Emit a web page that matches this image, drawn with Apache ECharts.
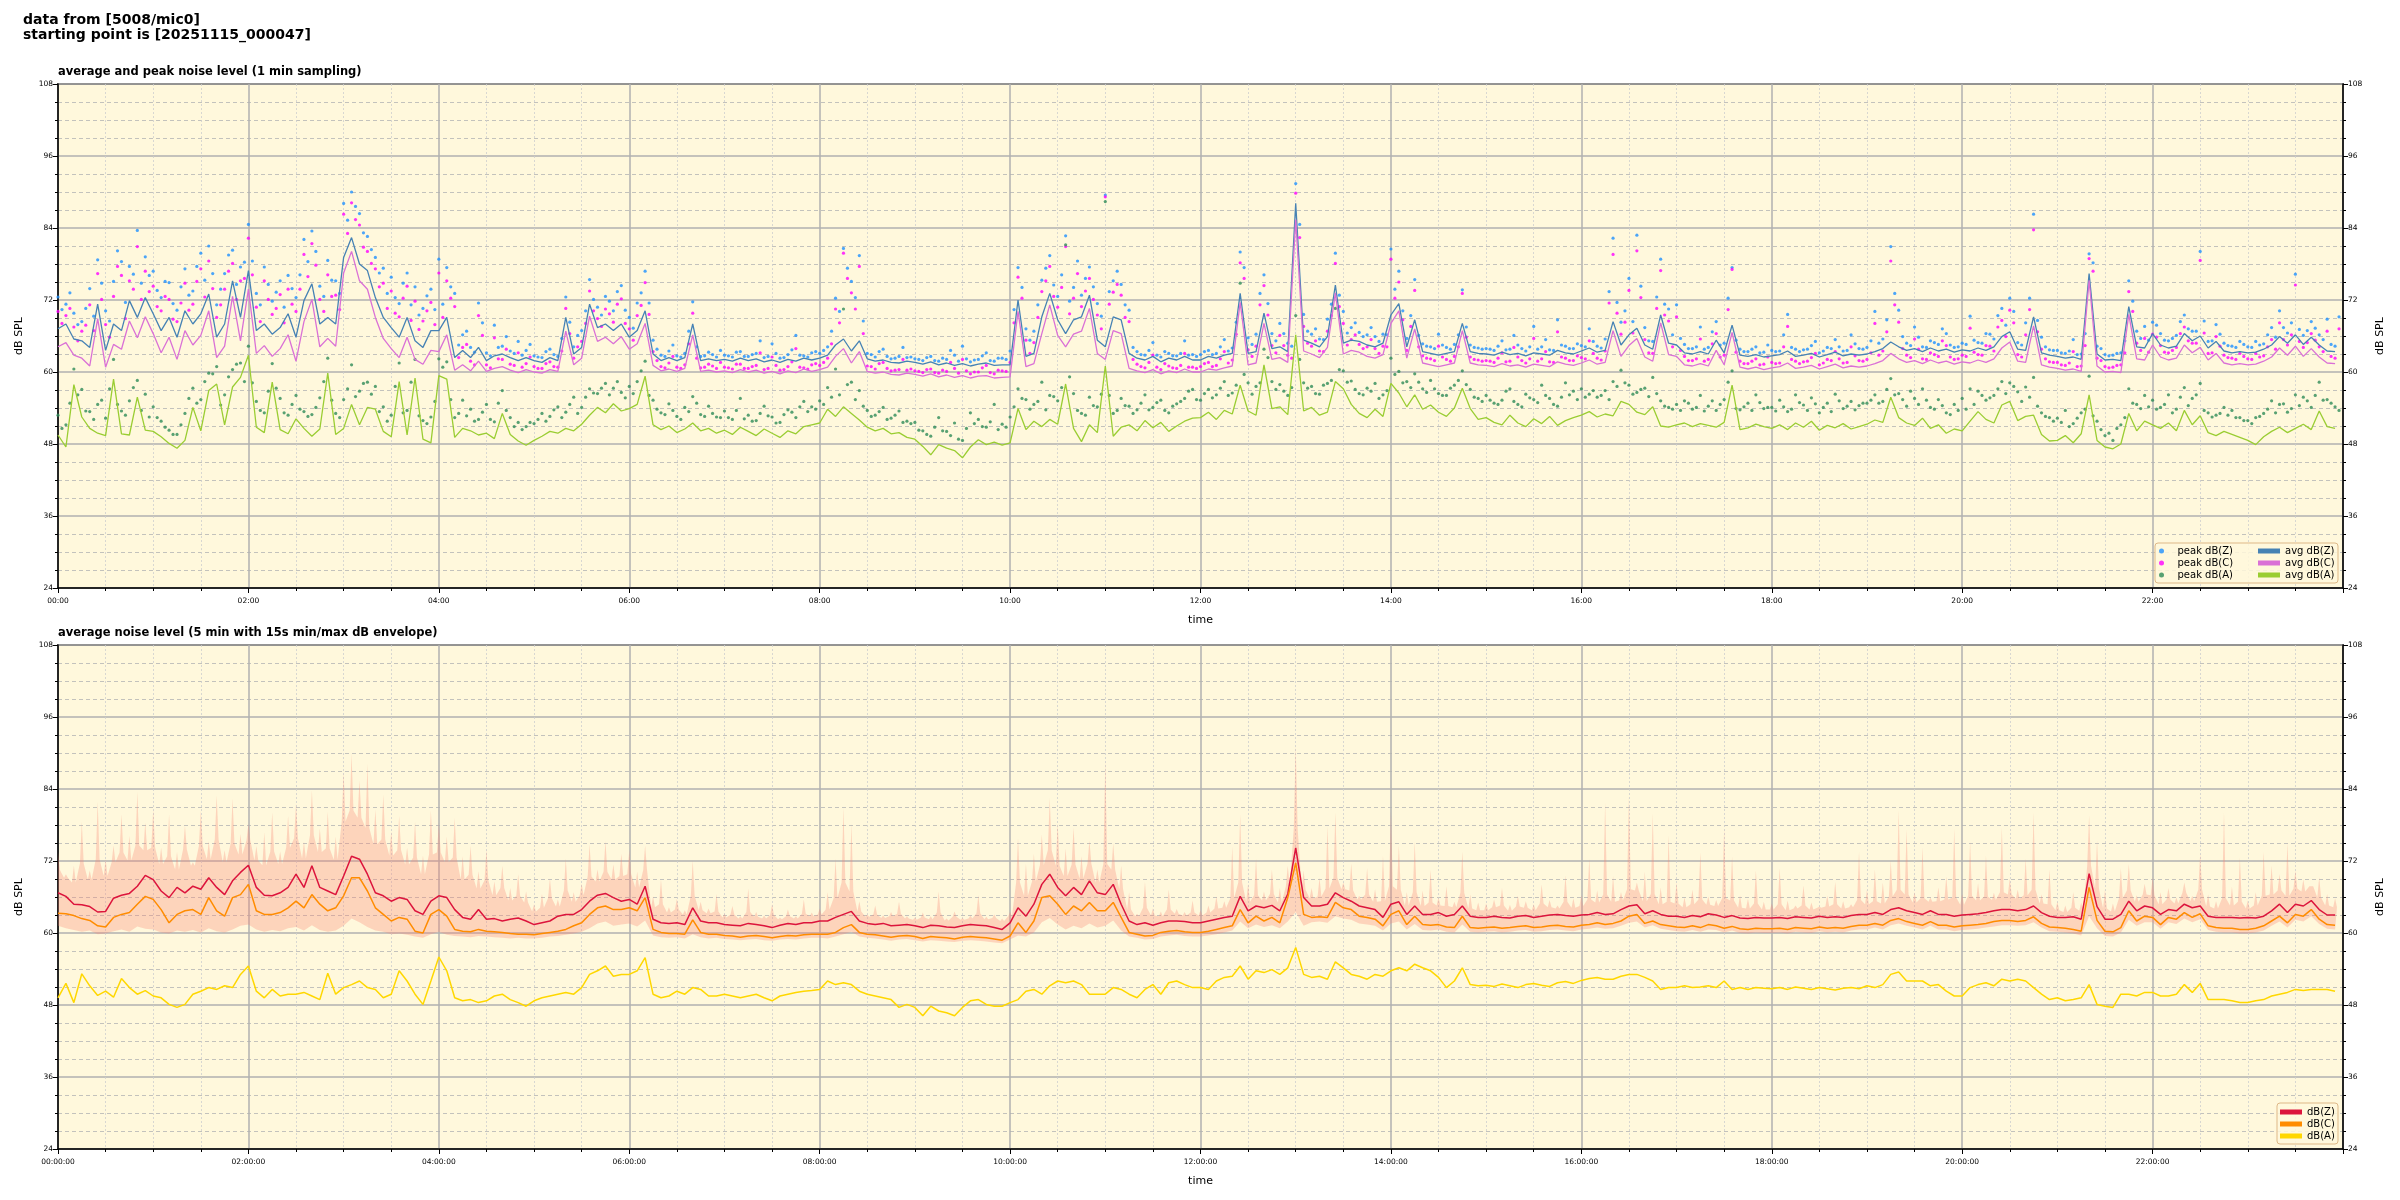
<!DOCTYPE html>
<html><head><meta charset="utf-8">
<script src="https://cdn.jsdelivr.net/npm/echarts@6/dist/echarts.min.js"></script>
<style>html,body{margin:0;padding:0;background:#fff}#c{width:2400px;height:1200px}</style>
</head><body><div id="c"></div>
<script>
// ---- sampling grid: one value every 5 minutes, 00:00 .. 23:55 ----
const STEP_MIN = 5;
const T = Array.from({length: 288}, (_, i) => i * STEP_MIN);
const HALF_STEP = 2.5;   // second set of peak samples sits half a step later

// ---- top panel: average levels (1 min sampling, read at 5 min) ----
const avgZ = [
67.2,68,65.5,65.2,64.1,71.3,63.6,68,66.9,71.9,69.1,72.4,
69.7,66.9,69.1,65.8,70.2,68,69.7,73,65.8,68,75.2,69.1,
76.9,66.9,68,66.3,67.4,69.7,65.8,71.9,74.7,68,69.1,68,
79.1,82.4,78,76.9,72.4,69.1,67.4,65.8,69.1,65.2,64.1,66.9,
66.9,69.1,62.4,63.6,62.4,64.1,61.9,62.7,63,62.4,61.9,62.4,
61.9,61.6,62.4,61.9,69.1,63,64.1,71.3,67.4,68,66.9,68,
65.8,66.9,70.2,63,61.9,62.4,61.9,62.4,68,61.9,62.2,61.9,
62.1,61.8,62.3,61.9,62.2,61.7,62,61.6,62.1,61.8,62.3,62,
62.3,62.8,64.5,65.5,63.5,65.2,62.2,61.8,62,61.6,61.5,61.8,
61.6,61.3,61.7,61.2,61.5,61.1,61.4,61,61.3,61.5,61.1,61.2,
61.2,72,62.6,63.1,69.2,73.1,68.7,66.4,68.7,69.2,72.8,65.3,
64.2,69.2,68.7,63.1,62.3,62,62.6,61.7,62.3,62,62.6,62,
62,62.6,62.3,62.8,63.1,73.1,63.1,63.4,69.8,63.9,64.2,63.4,
88.1,65.3,64.8,64.2,65.9,74.5,64.8,65.3,65.1,64.5,64.2,64.8,
69.5,71.4,64.2,68.7,63.4,63.1,62.8,63.1,63.4,68.1,63.4,63.1,
63,62.8,63.3,62.9,63.1,62.7,63.2,63,62.8,63.6,63.2,63,
63.5,64,63.3,63.6,68.4,64.5,66.2,67.3,64.5,63.8,69.5,64.8,
64.5,63.2,63,63.4,63,65.3,63.2,67.8,62.8,62.6,62.9,62.5,
62.7,62.9,63.5,62.6,62.8,63.1,62.5,62.9,63.3,62.7,63,62.8,
63,63.4,63.9,65,64.2,63.6,63.9,63.4,64,63.5,63.8,63.3,
63.7,63.5,64,63.6,64.2,65.9,66.7,63.8,63.6,69.2,63.2,62.8,
62.6,62.3,62.5,62.1,76.4,63,62,62.1,61.9,70.9,64.2,64,
66.4,64.5,64,64.3,66.4,65.2,66,64,65.1,63.5,63.2,63.4,
63.2,63.3,63.8,64.5,65.9,64.8,66.2,64.6,65.8,64.5,63.5,63.4
];
const avgC = [
64.2,64.9,62.8,62.3,61.0,68.9,60.8,64.6,63.8,68.5,65.7,69.2,
66.4,63.2,65.8,62.1,66.9,64.5,66.1,70.2,62.4,64.3,72.6,65.2,
73.8,63.1,64.4,62.6,63.9,66.2,61.8,68.4,72.1,64.2,65.6,64.3,
76.5,80.1,75.2,73.8,69.1,65.6,63.9,62.4,65.8,62.1,61.3,63.6,
63.4,66.2,60.3,61.2,60.2,61.8,60.1,60.6,60.9,60.3,59.9,60.4,
60,59.8,60.4,60.1,66.8,61.2,62.3,69.3,65.1,65.8,64.7,65.9,
63.8,64.7,68.1,61.1,60.2,60.5,60.1,60.6,66.2,60.1,60.3,60,
60.2,59.9,60.4,60,60.3,59.8,60.1,59.7,60.2,59.9,60.5,60.1,
60.4,60.8,62.6,63.9,61.5,63.4,60.1,59.8,60,59.6,59.5,59.8,
59.6,59.3,59.7,59.2,59.5,59.1,59.4,59,59.3,59.4,59,59.1,
59.2,70.1,60.9,61.4,66.4,71.2,66.1,64.2,66.3,66.8,70.6,63.1,
62.1,66.9,66.4,60.6,60.2,59.9,60.4,59.7,60.2,59.9,60.5,60,
60,60.5,60.3,60.7,61,71.6,61.2,61.5,68.1,62.1,62.4,61.6,
85.4,63.5,63,62.4,64.1,73.2,63,63.6,63.3,62.6,62.3,62.9,
68.1,70.2,62.3,67.2,61.5,61.2,60.9,61.2,61.5,66.9,61.5,61.2,
61.1,60.9,61.4,61,61.2,60.8,61.3,61.1,60.9,61.7,61.3,61.1,
61.5,62,61.3,61.6,66.9,62.6,64.4,65.6,62.5,61.8,68.2,62.9,
62.6,61.2,61,61.4,61,63.6,61.2,66.6,60.8,60.5,60.8,60.4,
60.7,60.9,61.5,60.6,60.8,61.1,60.5,60.9,61.3,60.7,61,60.8,
61,61.4,61.9,63.1,62.2,61.6,61.9,61.4,62,61.5,61.8,61.3,
61.7,61.5,62,61.6,62.2,64,65,61.8,61.6,67.7,61.2,60.8,
60.6,60.3,60.5,60.1,75.3,61,60,60.1,59.9,69.6,62.2,62,
64.5,62.5,62,62.3,64.5,63.2,64.1,62,63.1,61.5,61.2,61.4,
61.2,61.3,61.8,62.5,64,62.8,64.3,62.6,63.9,62.5,61.5,61.4
];
const avgA = [
49.5,47.5,57.9,52.5,50.6,49.8,49.4,58.8,49.7,49.5,55.8,50.3,
50.1,49.2,48.1,47.3,48.6,54.1,50.2,56.9,58,51.2,57.5,59.1,
62.8,50.8,49.9,58.3,50.4,49.7,52.2,50.6,49.3,50.5,59.8,49.6,
50.6,54.6,51.2,54.1,53.8,50.1,49.2,58.4,49.5,59,48.8,48.2,
59.4,58.8,49.1,50.6,50.2,49.5,49.8,48.9,53.1,49.6,48.5,47.8,
48.6,49.3,50.1,49.8,50.6,50.2,51.3,52.8,54.1,53.2,54.7,53.5,
53.9,54.6,59.3,51.2,50.4,51,49.9,50.5,51.5,50.2,50.6,49.8,
50.3,49.6,50.8,50.1,49.4,50.5,49.8,49.1,50.2,49.7,50.9,51.2,
51.5,53.8,52.6,54.2,53.1,52,50.8,50.2,50.6,49.7,49.9,49.1,
48.8,47.6,46.2,47.9,47.3,46.9,45.7,47.5,48.7,47.9,48.3,47.8,
48.2,53.9,50.4,51.8,50.9,52.1,51.3,58,50.6,48.4,51.2,49.9,
61,49.3,50.8,51.2,50.2,51.9,50.7,51.6,50.1,51,51.8,52.3,
52.4,53.3,52.1,53.6,53,57.8,53.5,52.8,61.2,53.9,54.2,52.9,
66.2,53.5,54.1,52.8,53.3,58.4,57.2,54.6,53.1,52.4,53.8,52.6,
58.1,56.5,54.2,56.2,53.8,54.5,53.3,52.6,54,57.3,53.9,52.1,
52.4,51.6,51.2,52.8,51.5,50.9,52.2,51.4,52.6,51.1,51.9,52.4,
52.8,53.4,52.5,53,52.7,55.1,54.6,53.3,52.9,54.2,51,50.8,
51.2,51.5,50.9,51.4,51.1,50.8,51.6,57.8,50.4,50.7,51.3,50.9,
50.6,51.2,50.4,51.5,50.8,51.8,50.3,51.1,50.7,51.4,50.5,50.9,
51.3,52,51.6,55.8,52.4,51.5,51.1,52.3,50.6,51.2,49.8,50.5,
50.2,51.8,53.4,52.1,51.5,54.5,55.1,51.9,52.6,52.8,49.6,48.5,
48.6,49.4,48.2,49.7,56.2,48.6,47.5,47.2,48,53.1,50.2,51.8,
51.2,50.6,51.5,50.2,53.6,51.2,52.7,49.9,49.4,50.1,49.6,49.1,
48.6,47.9,49.2,50.1,50.8,49.9,50.6,51.3,50.4,53.5,50.9,50.6
];
// ---- top panel: peak levels, samples on the 5 min grid ----
const peakZ = [
72.5,71.3,69.8,68.4,73.9,78.7,70.2,75.1,78.4,77.6,83.6,79.2,
76.8,72.4,74.9,70.3,77.2,73.5,79.8,81,71.2,76.4,80.3,77.5,
84.6,73.1,77.5,71.8,75.2,76.1,72.4,82.1,83.5,74.3,78.6,75.2,
88.1,90,86.4,82.6,79.1,77.3,75.8,71.4,76.5,74.2,70.6,73.8,
78.8,77.4,73.1,66.2,64.1,71.5,63.2,67.8,64.3,63.5,65.1,63.6,
62.7,62.4,63.8,62.6,72.5,64.2,66.9,75.4,70.8,72.6,70.2,74.4,
69.1,71.5,76.8,65.3,62.8,63.5,62.7,63.1,71.7,62.6,63.3,62.5,
62.8,62.5,63.4,62.6,63.1,62.4,64.7,62.3,62.9,66.1,62.7,63.2,
63.1,64.2,72.3,80.6,75.1,79.4,63.1,62.5,63.8,62.2,62.6,62.4,
62.2,61.9,62.6,61.8,62.1,62.8,64.3,61.7,62.1,63.2,61.8,62.3,
63.5,77.4,67.2,66.8,75.3,79.4,72.6,82.7,74.1,72.8,77.5,71.4,
89.5,75.2,74.6,70.3,63.4,62.8,64.9,62.5,63.1,62.7,65.2,62.9,
62.9,63.6,63.1,65.4,64,80,65.7,66.3,76.2,66.4,68.1,64.8,
91.4,69.6,66.3,65.5,68.8,79.8,70.1,67.4,66.6,66.2,65.9,66.3,
80.5,76.8,65.6,75.4,64.7,64.2,66.3,64.1,64.6,73.7,64.5,64,
63.9,63.6,65.2,63.8,64.5,63.5,67.6,64.2,63.7,68.7,64.3,63.9,
64.4,67.2,64.3,65.5,82.3,68.3,75.6,82.8,67.4,65.1,78.8,70.5,
71.2,64.6,63.9,67.5,64.1,68.4,64.8,77.4,63.8,63.4,64.2,63.3,
63.6,63.5,69.6,63.8,63.7,64.4,63.2,64.1,65.4,63.5,66.2,63.9,
64.1,70.1,65.5,80.9,70.3,64.8,67.5,64.2,65.2,64.6,66.4,64.1,
64.8,69.3,64.9,66.4,65.5,70.6,72.3,64.9,68.2,86.3,65.8,63.7,
63.6,63.1,65.4,63,79.7,64.3,62.9,62.8,63.2,75.2,66.8,67.6,
68.3,66.4,65.2,66.1,69.5,66.8,80.1,65.1,67.9,64.8,64.3,65.1,
64.2,65.1,64.7,67.4,70.2,66.5,76.3,66.1,68.4,66.2,68.8,64.3
];
const peakC = [
70.1,69.4,67.5,66.8,71.2,76.4,67.9,72.6,76.1,75.2,80.9,76.8,
74.3,70.2,72.1,68.4,74.8,71.3,77.2,78.5,69.1,73.8,78.1,75.2,
82.3,70.8,75.2,69.6,72.9,73.8,70.1,79.6,81.4,72.1,76.2,72.8,
86.3,88.2,84.5,80.1,77.2,74.8,73.5,69.2,74.3,71.8,68.5,71.6,
76.5,75.2,70.9,64.1,61.8,69.4,61.2,65.7,62.1,61.3,63.2,61.4,
60.9,60.6,61.7,60.8,70.6,62.3,65.1,73.5,68.9,70.5,68.3,72.2,
67.2,69.4,74.9,63.4,60.9,61.5,60.8,61.2,69.8,60.7,61.3,60.6,
60.8,60.5,61.3,60.6,61.1,60.4,62.5,60.3,60.9,63.9,60.7,61.2,
61.1,62.3,70.5,79.8,73.2,77.6,61,60.5,61.6,60.2,60.4,60.3,
60.2,59.9,60.5,59.8,60.1,60.6,62.1,59.7,60,61.1,59.7,60.2,
61.6,75.8,65.3,64.9,73.4,77.6,70.8,80.9,72.3,70.9,75.6,69.5,
89.2,73.3,72.8,68.4,61.3,60.7,62.8,60.4,61,60.6,63.1,60.8,
60.9,61.6,61.1,63.4,62,78.2,63.7,64.3,74.4,64.4,66.1,62.8,
89.8,67.6,64.3,63.5,66.8,78.1,68.1,65.4,64.6,64.2,63.9,64.3,
78.8,75,63.6,73.6,62.7,62.2,64.3,62.1,62.6,73.1,62.5,62,
61.9,61.6,63.2,61.8,62.5,61.5,65.6,62.2,61.7,66.7,62.3,61.9,
62.4,65.2,62.3,63.5,79.6,66.3,73.6,80.2,65.4,63.1,76.9,68.5,
69.2,62.6,61.9,65.5,62.1,66.4,62.8,77.1,61.8,61.4,62.2,61.3,
61.6,61.5,67.6,61.8,61.7,62.4,61.2,62.1,63.4,61.5,64.2,61.9,
62.1,68.1,63.5,78.5,68.3,62.8,65.5,62.2,63.2,62.6,64.4,62.1,
62.8,67.3,62.9,64.4,63.5,68.6,70.3,62.9,66.2,83.7,63.8,61.7,
61.6,61.1,63.4,61,78.9,62.3,60.9,60.8,61.2,73.4,64.8,65.6,
66.3,64.4,63.2,64.1,67.5,64.8,78.6,63.1,65.9,62.8,62.3,63.1,
62.2,63.1,62.7,65.4,68.2,64.5,74.5,64.1,66.4,64.2,66.8,62.3
];
const peakA = [
52.8,51.2,60.5,57.1,53.4,54.6,52.3,62.1,53.5,55.2,58.6,56.3,
54.2,51.8,50.3,49.6,53.1,57.3,55.4,59.8,60.9,56.2,60.4,61.5,
64.3,55.1,53.2,61.4,55.6,52.8,56.1,53.4,52.9,55.7,62.3,53.1,
55.4,61.2,56.8,58.3,57.6,54.2,52.8,61.5,53.6,62.1,51.9,52.5,
62.2,61.7,52.4,55.3,53.8,52.1,54.6,51.7,56.9,52.4,51.6,50.9,
51.4,53.1,52.6,54.2,53.3,55.8,54.1,57.2,56.4,58.1,57.3,56.6,
57.6,58.4,61.8,55.3,53.2,54.7,52.6,54.1,55.9,52.9,54.3,52.5,
53.5,52.1,55.6,52.8,51.9,54.3,52.5,51.6,53.7,52.4,55.1,54.2,
55.2,57.4,60.5,70.5,58.3,56.9,53.6,52.8,54.1,52.3,53.5,51.8,
51.6,50.2,49.3,52.4,50.1,51.5,48.6,53.2,52.1,50.8,54.6,51.3,
52.5,57.2,55.4,54.6,58.3,56.1,55.2,81.2,56.4,53.1,55.8,54.2,
88.4,53.1,55.6,54.3,53.7,56.2,54.1,55.3,53.2,54.7,55.6,57.1,
55.3,57.1,56.2,58.4,56.5,74.8,58.2,57.6,63.8,58.4,57.9,56.1,
69.4,58.2,57.6,56.3,58.1,70.6,60.2,58.5,56.4,57.3,58.1,56.2,
62.3,60.1,58.4,59.7,57.2,58.6,56.4,56.1,57.8,60.2,57.1,55.6,
56.1,54.8,55.3,57.2,54.6,56.3,55.4,57.8,55.6,54.3,58.2,56.8,
57.2,56.3,55.8,56.9,58.4,60.3,57.8,56.6,57.3,59.1,55.2,54.1,
54.6,55.2,53.8,56.1,54.3,53.6,55.4,60.2,53.7,54.8,56.2,53.9,
54.1,55.3,53.4,56.2,54.5,55.7,53.2,54.8,56.3,53.9,55.1,54.4,
54.8,56.2,55.1,58.9,56.4,54.3,55.6,57.2,54.1,55.4,53.2,54.6,
55.6,57.2,56.8,55.3,56.1,58.4,58.2,56.7,57.5,59.1,53.2,52.4,
52.3,53.6,51.4,53.2,59.3,51.8,49.4,48.6,51.2,57.2,54.6,56.1,
55.3,54.1,56.2,53.8,57.4,55.6,58.1,53.2,52.8,54.1,53.6,52.4,
51.9,52.4,53.1,55.2,54.6,53.3,56.2,55.8,54.1,58.3,55.4,54.2
];
// ---- top panel: peak levels, samples half a step later ----
const peakZb = [
70.4,73.2,67.9,70.6,69.3,74.8,68.5,80.2,71.6,76.3,74.8,76.1,
73.6,75.1,71.4,74.2,72.8,77.6,75.3,76.4,73.8,79.5,74.6,78.3,
78.5,71.2,74.6,73.3,70.8,73.9,76.2,78.4,80.1,72.6,75.3,73.1,
85.3,87.6,83.2,80.4,76.5,73.1,72.4,74.8,71.2,69.5,72.7,70.4,
71.3,74.2,64.5,66.8,63.3,68.2,62.7,64.1,65.9,63.1,62.8,64.6,
62.5,63.4,62.9,65.6,68.3,66.1,70.2,72.1,69.5,71.8,73.4,70.3,
67.3,73.2,71.5,63.8,62.6,64.5,62.5,66.8,64.2,62.7,62.9,63.6,
62.7,63.3,62.6,62.9,65.2,62.6,63.1,62.4,63.7,62.8,62.5,63.4,
63.6,66.8,70.1,77.3,72.4,68.5,62.9,63.4,62.6,62.3,64.1,62.5,
62.1,62.4,61.9,62.3,63.6,61.8,62.2,62,62.7,61.9,62.3,62.1,
70.4,74.1,65.3,71.2,77.3,74.5,76.2,71.8,78.5,75.6,74.2,69.3,
73.4,76.8,71.2,64.1,62.9,63.6,62.8,63.4,62.7,63.1,62.8,62.6,
63.4,62.9,64.2,63.5,68.3,77.4,64.6,73.1,71.4,65.2,66.4,64.3,
84.6,66.8,67.2,65.4,71.3,72.8,66.5,68.2,65.9,67.4,65.1,66.2,
73.8,70.2,69.4,66.1,64.3,63.9,64.5,63.8,66.2,67.5,64.1,63.8,
63.8,64.3,63.7,66.1,63.9,64.2,63.8,65.4,63.6,64.5,63.9,64.7,
64.2,65.1,64,73.4,71.6,70.2,68.4,74.3,65.2,72.5,71.3,66.2,
65.6,63.9,64.2,63.8,66.7,64.5,72.3,65.3,63.4,63.8,63.2,64.5,
63.4,66.2,64.1,63.4,63.8,65.1,63.5,63.9,64.2,63.6,64.7,63.8,
65.2,64.8,68.7,73.1,65.9,64.4,65.8,64.1,64.9,67.2,64.5,64.2,
64.6,65.3,64.8,66.3,69.4,67.8,70.1,64.5,72.3,68.6,64.2,63.6,
63.2,63.5,62.9,66.4,78.2,63.9,62.7,63.1,65.2,71.8,65.6,65.3,
67.8,65.3,65.6,68.4,67.2,66.8,68.5,65.2,66.3,64.4,64.1,64.6,
64.1,64.5,66.2,65.8,67.4,68.2,67.1,66.9,67.3,65.4,64.6,69.2
];
const peakCb = [
68.1,70.6,65.2,67.8,66.9,72.1,65.8,77.6,68.9,73.8,72.1,73.4,
70.9,72.6,68.8,71.5,70.3,75.1,72.5,73.9,71.2,76.8,72.1,75.6,
76.2,68.4,72.1,70.6,68.2,71.3,73.8,75.9,77.8,70.1,72.6,70.4,
83.1,85.4,80.8,78.1,74.2,70.6,69.8,72.3,68.6,67.1,70.2,67.9,
69.1,72.3,62.4,64.6,61.2,66.1,60.7,62.2,63.8,61.1,60.8,62.5,
60.6,61.4,60.9,63.5,66.4,64.2,68.1,70.2,67.6,69.7,71.3,68.1,
65.3,71.1,69.6,61.9,60.7,62.6,60.6,64.7,62.3,60.8,61,61.6,
60.7,61.3,60.6,60.9,63.2,60.6,61.1,60.4,61.7,60.8,60.5,61.4,
61.6,64.7,68.2,75.6,70.5,66.4,60.9,61.4,60.6,60.3,62.1,60.5,
60.1,60.4,59.9,60.3,61.6,59.8,60.2,60,60.7,59.9,60.3,60.1,
68.2,72.3,63.1,69.1,75.2,72.6,74.1,69.7,76.4,73.5,72.1,67.2,
71.3,74.6,69.1,62.1,60.9,61.6,60.8,61.4,60.7,61.1,60.8,60.6,
61.4,60.9,62.2,61.5,66.3,75.6,62.6,71.2,69.5,63.2,64.4,62.3,
82.4,64.8,65.2,63.4,69.4,70.9,64.5,66.2,63.9,65.4,63.1,64.2,
72.3,68.7,67.6,64.2,62.3,61.9,62.5,61.8,64.2,65.8,62.1,61.8,
61.8,62.3,61.7,64.1,61.9,62.2,61.8,63.4,61.6,62.5,61.9,62.7,
62.2,63.1,62,71.5,69.8,68.3,66.5,72.4,63.2,70.6,69.5,64.2,
63.6,61.9,62.2,61.8,64.7,62.5,70.4,63.3,61.4,61.8,61.2,62.5,
61.4,64.2,62.1,61.4,61.8,63.1,61.5,61.9,62.2,61.6,62.7,61.8,
63.2,62.8,66.7,71.2,63.9,62.4,63.8,62.1,62.9,65.2,62.5,62.2,
62.6,63.3,62.8,64.3,67.5,65.9,68.2,62.5,70.4,66.7,62.2,61.6,
61.2,61.5,60.9,64.4,76.8,61.9,60.7,61.1,63.2,70.1,63.6,63.3,
65.8,63.3,63.6,66.4,65.2,64.8,66.5,63.2,64.3,62.4,62.1,62.6,
62.1,62.5,64.2,63.8,65.4,66.2,65.1,64.9,65.3,63.4,62.6,67.2
];
const peakAb = [
50.6,54.8,56.2,53.5,52.1,55.3,57.2,54.6,52.8,57.4,53.6,52.5,
52.4,50.8,49.6,51.2,55.6,54.8,58.4,59.7,54.5,59.2,61.3,58.4,
58.2,53.6,56.8,57.3,53.2,54.6,53.8,52.6,54.1,58.4,55.3,52.4,
57.2,55.9,58.1,56.3,53.4,51.8,57.6,53.2,58.3,52.7,51.4,55.1,
60.8,55.4,53.1,52.7,51.8,53.3,52.1,54.8,53.6,50.9,50.4,51.6,
52.1,51.8,53.7,52.4,54.6,53.1,55.8,56.5,57.3,56.2,58.4,55.7,
56.4,60.2,56.1,53.8,52.9,53.6,52.1,53.4,54.8,52.6,53.1,52.4,
52.4,53.6,52.2,51.8,53.1,52.7,51.5,52.9,53.3,54.2,53.4,53.8,
54.6,55.8,56.2,57.9,55.4,54.3,52.6,53.4,52.1,52.8,51.6,51.4,
50.3,49.6,50.8,50.2,49.4,48.8,50.6,51.4,50.9,51.7,50.4,50.8,
54.2,55.6,53.8,55.1,53.7,55.9,57.4,59.2,53.6,52.8,54.4,56.3,
56.1,53.6,54.4,53.1,54.8,53.7,54.9,53.6,54.3,55.1,56.8,55.4,
56.4,55.7,57.3,56.1,57.8,59.6,56.3,58.2,62.4,57.1,56.8,57.4,
62.1,57.3,56.4,57.8,58.6,60.4,58.3,57.1,56.2,56.8,55.6,56.9,
59.6,58.2,57.4,58.3,56.6,57.2,56.1,57.3,58.6,57.9,55.8,55.1,
55.3,54.6,56.8,55.1,54.2,55.7,54.9,56.1,54.6,55.8,56.2,55.4,
55.8,56.9,56.1,55.4,57.6,58.2,56.3,57.1,55.9,56.4,54.3,53.8,
53.6,54.8,54.1,53.5,55.2,54.6,58.3,53.9,54.2,53.6,54.9,54.1,
53.5,54.2,53.8,54.9,53.6,54.7,54.1,53.4,55.2,54.3,53.7,54.8,
55.3,54.8,57.1,56.2,55.4,56.8,54.6,55.3,53.8,54.4,52.9,53.6,
53.8,54.6,56.1,55.7,57.2,56.4,57.6,55.1,55.8,54.3,52.6,51.8,
51.6,50.9,52.3,53.8,52.7,50.4,49.8,50.6,52.4,54.8,53.9,54.2,
53.8,54.6,53.2,55.8,54.4,56.2,53.6,52.5,53.1,52.8,52.4,51.9,
51.4,52.6,53.8,53.2,54.7,53.9,54.4,55.2,56.1,55.3,54.8,53.6
];

// ---- bottom panel: 5 min averages ----
const bZ = [
66.7,66.1,64.8,64.7,64.4,63.5,63.6,65.8,66.3,66.6,67.8,69.6,
68.9,67,65.9,67.6,66.7,67.8,67.3,69.2,67.6,66.4,68.7,70.1,
71.3,67.6,66.3,66.2,66.7,67.6,69.8,67.6,71.2,67.6,67,66.4,
69.5,72.8,72.3,69.8,66.7,66.2,65.3,65.9,65.6,63.7,63.1,65.3,
66.2,65.9,63.9,62.6,62.3,63.9,62.3,62.4,62,62.3,62.5,62,
61.4,61.7,62,62.8,63.1,63.1,63.9,65.3,66.3,66.6,65.9,65.3,
65.6,64.8,67.8,62.3,61.7,61.6,61.7,61.4,64.2,62,61.7,61.7,
61.4,61.3,61.2,61.6,61.4,61.2,60.9,61.3,61.6,61.4,61.7,61.7,
62,62,62.6,63.1,63.6,62,61.6,61.4,61.6,61.2,61.3,61.4,
61.2,60.9,61.3,61.2,61,60.9,61.2,61.4,61.3,61.2,60.9,60.6,
61.7,64.2,62.8,64.8,68.1,69.8,67.6,66.2,67.6,66.4,68.7,66.7,
66.4,68.1,64.8,62,61.4,61.7,61.3,61.7,62,62,61.9,61.7,
61.7,62,62.3,62.6,62.8,66.1,63.7,64.5,64.2,64.6,63.7,66.5,
74.2,65.9,64.5,64.5,64.8,66.7,65.9,65.3,64.5,64.2,63.9,62.6,
64.8,65.2,63.1,64.5,63.1,63.1,63.4,62.8,63.1,64.5,62.8,62.6,
62.6,62.8,62.6,62.5,62.8,62.9,62.6,62.8,63,63.1,62.9,62.8,
63,63.1,63.4,63.1,63.2,63.9,64.5,64.7,63.2,63.7,63.1,62.8,
62.8,62.6,62.9,62.7,63.2,63,62.6,62.9,62.5,62.4,62.6,62.5,
62.5,62.6,62.4,62.7,62.6,62.5,62.8,62.6,62.7,62.6,62.9,63.1,
63.1,63.4,63.1,63.9,64.2,63.7,63.4,63.1,63.7,63.1,63.1,62.8,
63,63.1,63.2,63.4,63.7,63.9,63.9,63.7,63.9,64.5,63.4,62.8,
62.6,62.6,62.7,62.3,69.9,64.4,62.3,62.3,63.1,65.3,63.7,64.5,
64.2,63.1,63.9,63.7,64.8,64.2,64.5,62.8,62.6,62.6,62.6,62.5,
62.6,62.5,62.8,63.7,64.8,63.4,64.8,64.5,65.4,63.9,63,63
];
const bC = [
63.3,63.2,62.9,62.4,62.1,61.2,61,62.6,63.1,63.4,64.8,66.1,
65.6,63.9,61.7,63.1,63.7,63.9,63.1,65.9,63.7,62.8,65.9,66.4,
68.1,63.7,63.1,63.1,63.4,64.2,65.3,64.2,66.4,64.8,63.7,64.2,
66.2,69.2,69.2,67,64.2,63.1,62,62.6,62.3,60.3,60,63.1,
63.9,62.8,60.6,60.3,60.2,60.6,60.3,60.2,60.1,59.9,59.8,59.8,
59.7,59.9,60.1,60.3,60.6,61.2,61.7,63.1,64.2,64.5,63.9,63.9,
64.2,63.7,65.9,60.6,60.1,59.9,59.9,59.8,62.2,60.1,59.8,59.8,
59.6,59.5,59.3,59.5,59.6,59.4,59.2,59.4,59.6,59.5,59.7,59.8,
59.8,59.8,60.1,60.9,61.4,60.1,59.8,59.7,59.5,59.3,59.5,59.6,
59.4,59.1,59.4,59.3,59.2,59,59.3,59.4,59.3,59.2,59,58.8,
59.5,61.7,60.1,62,65.9,66.2,64.8,63.1,64.5,63.7,65.1,63.7,
63.7,65.1,62.6,60.1,59.8,59.5,59.6,60.1,60.3,60.4,60.2,60.1,
60.1,60.3,60.6,60.9,61.2,63.9,61.7,62.8,62,62.6,61.7,65.9,
71.7,63.1,62.6,62.7,62.6,65.1,64.2,63.9,62.8,62.6,62.3,61.2,
63.1,63.7,61.4,62.8,61.4,61.3,61.4,61,60.9,62.8,60.9,60.8,
60.9,61,60.8,60.9,61.1,61.2,60.9,61,61.2,61.3,61.1,61,
61.3,61.4,61.7,61.4,61.6,62,62.8,63.1,61.6,62,61.4,61.2,
61,60.9,61.2,60.9,61.4,61.2,60.8,61.1,60.7,60.6,60.8,60.7,
60.7,60.8,60.6,60.9,60.8,60.7,61,60.8,60.9,60.8,61.1,61.3,
61.3,61.6,61.3,62.1,62.4,61.9,61.6,61.3,61.9,61.3,61.3,61,
61.2,61.3,61.4,61.6,61.9,62.1,62.1,61.9,62.1,62.7,61.6,61,
60.9,60.8,60.6,60.3,67.6,62.1,60.3,60.2,60.9,63.7,62,62.8,
62.6,61.4,62.6,62.3,63.4,62.6,63.2,61.2,60.9,60.8,60.8,60.6,
60.6,60.8,61.2,62,62.8,61.7,63.1,62.8,63.9,62.3,61.4,61.3
];
const bA = [
49.2,51.6,48.4,53.2,51.2,49.6,50.3,49.3,52.4,50.9,49.8,50.4,
49.5,49.2,48.1,47.6,48.1,49.8,50.3,50.9,50.6,51.2,50.9,53.1,
54.5,50.3,49.2,50.6,49.5,49.8,49.8,50.1,49.5,48.9,53.3,49.8,
50.9,51.4,52,50.9,50.6,49.2,49.8,53.7,52,49.8,48.1,52,
56,53.7,49.2,48.7,48.9,48.4,48.7,49.5,49.8,48.9,48.4,47.8,
48.7,49.2,49.5,49.8,50.1,49.8,50.9,53.1,53.7,54.5,52.8,53.1,
53.1,53.7,55.9,49.8,49.2,49.5,50.3,49.8,50.9,50.6,49.5,49.5,
49.8,49.5,49.2,49.5,49.8,49.2,48.7,49.5,49.8,50.1,50.3,50.4,
50.6,52,51.4,51.7,51.4,50.3,49.8,49.5,49.2,48.9,47.6,48.1,
47.6,46.2,47.8,47,46.7,46.2,47.6,48.7,48.9,48.1,47.8,47.8,
48.4,48.9,50.3,50.6,49.8,51.2,52,51.7,52,51.4,49.8,49.8,
49.8,50.9,50.6,49.8,49.2,50.6,51.4,49.8,51.7,52,51.4,50.9,
50.9,50.6,52,52.6,52.8,54.5,52.3,53.7,53.4,53.9,53.1,54.2,
57.6,53.1,52.6,52.8,52.3,55.2,54.2,53.1,52.8,52.3,53.1,52.8,
53.7,54.2,53.7,54.8,54.2,53.7,52.6,50.9,52,54.2,51.4,51.2,
51.3,51.1,51.5,51.2,50.9,51.4,51.6,51.3,51.1,51.7,51.9,51.6,
52.1,52.4,52.6,52.3,52.3,52.8,53.1,53.1,52.6,52,50.6,50.9,
50.9,51.2,50.9,51,51.2,50.9,52,50.6,50.9,50.6,50.9,50.8,
50.7,50.9,50.6,51,50.8,50.6,50.9,50.7,50.5,50.8,50.9,50.7,
51.2,50.9,51.4,53.1,53.5,52,52,52,51.2,51.4,50.3,49.5,
49.5,50.9,51.4,51.7,51.2,52.3,52,52.3,52,50.9,49.8,48.9,
49.2,48.7,48.9,49.2,51.4,48.1,47.8,47.6,49.8,49.8,49.5,50.1,
50.1,49.5,49.5,49.8,51.4,50.1,51.6,48.9,48.9,48.9,48.7,48.4,
48.4,48.7,48.9,49.5,49.8,50.1,50.6,50.4,50.6,50.6,50.6,50.3
];
// ---- bottom panel: 15 s min/max envelope ----
// envMax: tallest 15 s maximum in each 5 min slot (drawn as thin spikes)
const envMax = [
73.5,69.8,71.2,78.5,70.4,81.9,72.3,74.6,79.8,76.2,83.5,78.4,
80.6,74.2,79.8,73.5,77.9,71.8,80.4,75.3,82.9,73.8,82.4,76.5,
78.2,74.5,76.8,80.1,73.6,79.5,81.6,75.2,83.8,77.4,80.2,76.1,
86.8,89.9,85.4,88.2,80.6,83.1,76.9,79.5,74.2,78.6,72.9,80.4,
78.3,76.1,79.2,72.8,74.5,70.3,73.9,68.6,71.2,67.5,69.8,66.9,
64.8,66.5,69.1,65.6,72.4,66.8,68.2,74.8,70.6,75.3,71.4,73.2,
73.8,70.2,74.6,66.1,68.9,64.3,65.7,63.8,72.1,65.2,64.1,66.5,
63.2,64.5,62.8,67.4,63.5,62.9,64.8,62.6,63.9,62.8,65.6,63.4,
64.1,66.8,72.4,80.9,78.2,65.3,63.1,64.6,62.9,63.5,65.2,62.8,
62.6,63.4,62.8,66.9,62.4,63.6,62.5,62.9,66.3,62.7,63.1,62.4,
63.5,75.8,71.6,73.2,76.4,82.5,78.3,74.1,77.6,72.8,75.4,70.6,
88.7,74.9,71.2,66.8,63.2,68.5,64.1,63.6,67.2,64,63.5,65.4,
63.8,64.6,66.1,65.3,74.4,79.8,68.2,72.4,66.9,70.6,67.5,71.2,
91.2,70.4,67.5,69.2,77.8,80.1,68.4,71.6,66.2,70.8,67.3,72.9,
80.3,74.6,66.8,75.2,67.1,70.5,65.9,67.8,65.2,73.6,66.4,65.1,
64.9,65.6,67.5,64.7,66.2,65.3,64.8,68.1,65.5,64.6,69.6,65.8,
66.3,72.4,67.1,81.8,69.5,66.8,82.8,68.4,70.2,79.9,67.6,76.3,
68.4,65.9,67.2,73.4,66.1,65.5,77.5,72.8,66.3,65.7,70.4,65.2,
64.9,70.8,65.4,64.6,67.9,65.1,64.4,66.2,68.5,65.3,64.8,73.5,
67.2,70.6,68.4,72.1,80.4,77.3,66.8,74.3,65.9,67.6,69.4,77.4,
66.5,75.2,68.3,72.9,66.7,77.6,69.1,67.2,72.4,80.1,66.4,70.6,
65.2,64.6,66.8,65.1,79.6,75.4,67.2,64.9,70.8,71.5,66.3,68.2,
69.3,66.8,67.5,65.9,68.4,66.2,73.3,66.4,65.3,80.1,67.7,72.6,
65.4,66.8,73.5,71.2,69.8,75.1,70.4,68.9,67.2,69.3,66.5,65.8
];
// envBand: top of the dense part of the envelope in each slot
const envBand = [
70.5,69.2,68.4,71.6,68.9,72.3,69.5,71.8,73.4,72.1,74.6,73.8,
74.2,71.5,72.8,70.6,73.9,71.2,74.5,72.3,75.6,71.8,74.9,73.1,
75.4,72.1,71.3,73.6,71.5,74.2,75.8,72.4,76.3,73.5,74.1,72.2,
78.6,80.4,79.2,77.5,74.8,75.6,72.9,73.8,71.4,72.6,69.8,73.1,
73.4,71.8,72.6,68.9,69.7,67.4,68.8,66.3,67.5,65.4,66.2,65.1,
63.6,64.2,65.8,64.4,67.1,65.2,66.3,69.4,68.6,70.2,68.9,69.5,
69.8,67.6,70.5,64.3,64.8,63.4,63.9,63.1,66.2,63.8,63.3,63.6,
62.6,63.1,62.4,63.5,62.7,62.4,63,62.3,62.8,62.4,63.2,62.8,
63.1,63.9,65.8,68.4,66.9,63.6,62.7,63.1,62.5,62.8,63.2,62.4,
62.2,62.6,62.3,63.4,62.1,62.7,62.2,62.4,63.3,62.3,62.5,62,
62.8,68.4,66.2,68.6,71.3,73.8,71.2,69.5,71.4,69.1,71.6,68.4,
71.5,70.6,67.3,63.9,62.8,64.2,62.9,62.8,63.9,63.2,62.9,63.4,
62.9,63.4,64.1,64.2,65.8,68.4,65.2,66.3,65.4,66.5,65.1,67.8,
77.5,67.2,65.8,66.1,67.4,69.2,67.3,67.1,65.6,66.4,65.2,65.3,
67.8,67.2,64.6,66.8,64.5,65.1,64.6,64.5,64.3,66.7,64.1,63.8,
63.8,64.3,64.6,63.7,64.4,64.2,63.8,64.9,64.3,64.1,65.2,64.2,
64.5,65.6,65.1,66.4,65.2,65.4,67.3,67.1,65.3,66.5,64.8,65.2,
64.9,64.3,64.8,65.6,64.7,64.5,65.8,65.4,64.2,64.1,64.9,63.9,
63.9,64.8,63.8,64.1,64.6,63.9,64.2,64.4,64.8,64.1,64.3,65.5,
64.8,65.3,64.9,66.1,67.2,66.4,65.1,65.8,65.2,65.3,65.6,65.9,
64.7,66.2,65.4,66.1,65.5,66.8,66.4,65.7,66.3,67.2,64.9,64.8,
63.8,63.5,64.2,63.7,71.2,67.4,64.1,63.6,65.8,67.1,65.2,66.4,
66.3,64.8,65.6,64.9,66.7,65.3,67.2,64.4,64.1,65.8,64.6,65.2,
64.1,64.6,66.2,66.4,67.1,66.2,67.4,66.9,67.8,65.9,64.6,64.3
];
const envMin = [
61.2,60.8,60.5,60.2,60.4,59.8,59.9,60.3,60.6,60.2,61.1,60.7,
60.6,60.1,59.9,60.4,60.2,60.5,60.1,60.8,60.3,60.1,60.6,61.2,
61.4,60.6,60.2,60.5,60.3,60.8,61,60.4,61.3,60.5,60.2,60.4,
61.2,62.4,61.8,61,60.4,60.2,59.8,59.9,59.7,59.4,59.2,59.8,
60.2,59.7,59.5,59.4,59.3,59.5,59.4,59.3,59.2,59.1,59.2,59.1,
59.1,59.2,59.4,59.5,59.7,59.9,60.2,60.8,61.6,61.9,61.2,61.4,
61.6,61.1,62.1,59.6,59.3,59.2,59.3,59.1,59.8,59.3,59.1,59.2,
59,58.9,58.8,58.9,59,58.8,58.7,58.9,59,58.9,59.1,59.2,
59.2,59.1,59.4,59.8,60.2,59.4,59.2,59.1,58.9,58.7,58.9,59,
58.8,58.6,58.8,58.7,58.6,58.5,58.7,58.8,58.7,58.6,58.4,58.3,
58.9,59.6,59.4,60.1,61.8,62.5,61.4,60.6,61.2,60.8,61.6,60.9,
61.2,62.1,60.4,59.4,59.2,58.9,59,59.4,59.6,59.7,59.5,59.4,
59.4,59.6,59.8,60.1,60.4,61.9,60.8,61.4,61,61.3,60.8,61.9,
63.5,61.2,61.8,61.9,61.7,62.8,62.4,62.2,61.6,61.4,61.2,60.4,
61.6,61.9,60.6,61.5,60.5,60.4,60.6,60.2,60.1,61.4,60.2,60.1,
60.2,60.3,60.1,60.2,60.4,60.5,60.2,60.3,60.5,60.6,60.4,60.3,
60.6,60.7,60.9,60.7,60.8,61.2,61.7,61.9,60.9,61.3,60.7,60.5,
60.3,60.2,60.5,60.2,60.6,60.5,60.1,60.4,60,59.9,60.1,60,
60,60.1,59.9,60.2,60.1,60,60.3,60.1,60.2,60.1,60.4,60.6,
60.6,60.9,60.6,61.3,61.6,61.2,60.9,60.6,61.2,60.6,60.6,60.3,
60.5,60.6,60.7,60.9,61.1,61.3,61.3,61.2,61.3,61.8,60.9,60.3,
60.2,60.1,59.9,59.6,62.8,60.8,59.5,59.4,60.1,62.2,61.2,61.8,
61.8,60.7,61.8,61.5,62.4,61.8,62.3,60.5,60.2,60.1,60.1,59.9,
59.9,60.1,60.4,61.2,61.9,60.9,62.2,61.9,62.8,61.5,60.7,60.6
];

// ---- axis settings ----
const X_MIN = 0, X_MAX = 1440, X_STEP = 120;   // minutes of the day
const Y_MIN = 24, Y_MAX = 108, Y_STEP = 12;    // dB SPL
const SPIKE_HALF = 1.2;                        // half width (min) of an envelope spike

const FONT = 'DejaVu Sans';
const pad2 = n => String(n).padStart(2, '0');
const fmtHM = v => v >= X_MAX ? '' : pad2(Math.floor(v / 60)) + ':' + pad2(v % 60);
const fmtHMS = v => v >= X_MAX ? '' : pad2(Math.floor(v / 60)) + ':' + pad2(v % 60) + ':00';
const pts = arr => arr.map((v, i) => [T[i], v]);
const ptsHalf = arr => arr.map((v, i) => [T[i] + HALF_STEP, v]);

function xAxis(g, fmt) {
  return {
    type: 'value', gridIndex: g, min: X_MIN, max: X_MAX, interval: X_STEP,
    name: 'time', nameLocation: 'middle', nameGap: 27,
    nameTextStyle: {fontSize: 11, color: '#000', fontFamily: FONT},
    axisLine: {show: true, onZero: false, lineStyle: {color: '#000', width: 1.5}},
    axisTick: {show: true, length: 5, lineStyle: {color: '#000', width: 1}},
    minorTick: {show: true, splitNumber: 4, length: 3, lineStyle: {color: '#000', width: 1}},
    axisLabel: {fontSize: 7.5, color: '#000', fontFamily: FONT, margin: 9, formatter: fmt, showMaxLabel: false},
    splitLine: {show: true, lineStyle: {color: '#b0b0b0', width: 1.5}},
    minorSplitLine: {show: true, lineStyle: {color: '#cfcfcf', width: 0.8, type: [2, 2]}}
  };
}
function yAxis(g, pos) {
  const left = pos === 'left';
  return {
    type: 'value', gridIndex: g, position: pos, min: Y_MIN, max: Y_MAX, interval: Y_STEP,
    name: 'dB SPL', nameLocation: 'middle', nameRotate: 90, nameGap: left ? 33 : 32,
    nameTextStyle: {fontSize: 11, color: '#000', fontFamily: FONT},
    axisLine: {show: true, onZero: false, lineStyle: {color: '#000', width: 1.5}},
    axisTick: {show: true, length: 5, lineStyle: {color: '#000', width: 1}},
    minorTick: {show: true, splitNumber: 4, length: 3, lineStyle: {color: '#000', width: 1}},
    axisLabel: {fontSize: 7.5, color: '#000', fontFamily: FONT, margin: 5},
    splitLine: {show: left, lineStyle: {color: '#b0b0b0', width: 1.5}},
    minorSplitLine: {show: left, lineStyle: {color: '#b4b4b4', width: 0.8, type: [4, 3]}}
  };
}
const gridBase = {left: 58, right: 57, height: 504, show: true, backgroundColor: '#fff8dc',
                  borderColor: '#000', borderWidth: 1.5, containLabel: false};

const legendBase = {
  orient: 'vertical', itemGap: 0, itemWidth: 22, itemHeight: 5, z: 20,
  textStyle: {fontSize: 10, color: '#000', fontFamily: FONT, lineHeight: 12},
  selectedMode: false
};
const dot = (name, data, color) => ({type: 'scatter', name, xAxisIndex: 0, yAxisIndex: 0, data,
  symbol: 'circle', symbolSize: 3.2, itemStyle: {color}, silent: true, z: 2});

const option = {
  animation: false,
  textStyle: {fontFamily: FONT},
  title: [
    {text: 'data from [5008/mic0]\nstarting point is [20251115_000047]', left: 23, top: 13, padding: 0,
     textStyle: {fontSize: 14, fontWeight: 'bold', color: '#000', lineHeight: 15, fontFamily: FONT}},
    {text: 'average and peak noise level (1 min sampling)', left: 58, top: 66, padding: 0,
     textStyle: {fontSize: 11.5, fontWeight: 'bold', color: '#000', fontFamily: FONT}},
    {text: 'average noise level (5 min with 15s min/max dB envelope)', left: 58, top: 627, padding: 0,
     textStyle: {fontSize: 11.5, fontWeight: 'bold', color: '#000', fontFamily: FONT}}
  ],
  grid: [Object.assign({top: 84}, gridBase), Object.assign({top: 645}, gridBase)],
  xAxis: [xAxis(0, fmtHM), xAxis(1, fmtHMS)],
  yAxis: [yAxis(0, 'left'), yAxis(0, 'right'), yAxis(1, 'left'), yAxis(1, 'right')],
  graphic: [
    {type: 'rect', z: 10, silent: true, shape: {x: 2155, y: 543, width: 183, height: 40, r: 3},
     style: {fill: 'rgba(255,248,220,0.85)', stroke: '#deb887', lineWidth: 1}},
    {type: 'rect', z: 10, silent: true, shape: {x: 2277, y: 1103, width: 61, height: 41, r: 3},
     style: {fill: 'rgba(255,248,220,0.85)', stroke: '#deb887', lineWidth: 1}}
  ],
  legend: [
    Object.assign({}, legendBase, {left: 2159, top: 545, padding: 0,
      data: [{name: 'peak dB(Z)', icon: 'circle'}, {name: 'peak dB(C)', icon: 'circle'}, {name: 'peak dB(A)', icon: 'circle'}]}),
    Object.assign({}, legendBase, {left: 2258, top: 545, padding: 0,
      data: [{name: 'avg dB(Z)', icon: 'rect'}, {name: 'avg dB(C)', icon: 'rect'}, {name: 'avg dB(A)', icon: 'rect'}]}),
    Object.assign({}, legendBase, {left: 2280, top: 1106, padding: 0,
      data: [{name: 'dB(Z)', icon: 'rect'}, {name: 'dB(C)', icon: 'rect'}, {name: 'dB(A)', icon: 'rect'}]})
  ],
  series: [
    dot('peak dB(Z)', pts(peakZ).concat(ptsHalf(peakZb)), '#1e90ff'),
    dot('peak dB(C)', pts(peakC).concat(ptsHalf(peakCb)), '#ff00ff'),
    dot('peak dB(A)', pts(peakA).concat(ptsHalf(peakAb)), '#2e8b57'),
    {type: 'line', name: 'avg dB(Z)', xAxisIndex: 0, yAxisIndex: 0, data: pts(avgZ), symbol: 'none',
     color: '#4682b4', lineStyle: {color: '#4682b4', width: 1.3}, silent: true, z: 3},
    {type: 'line', name: 'avg dB(C)', xAxisIndex: 0, yAxisIndex: 0, data: pts(avgC), symbol: 'none',
     color: '#da70d6', lineStyle: {color: '#da70d6', width: 1.3}, silent: true, z: 3},
    {type: 'line', name: 'avg dB(A)', xAxisIndex: 0, yAxisIndex: 0, data: pts(avgA), symbol: 'none',
     color: '#9acd32', lineStyle: {color: '#9acd32', width: 1.3}, silent: true, z: 3},
    {type: 'custom', name: 'envelope', xAxisIndex: 1, yAxisIndex: 2, data: [[T[0], envMin[0]]],
     silent: true, z: 1, clip: true,
     renderItem: function (params, api) {
       const poly = [];
       for (let i = 0; i < T.length; i++) {
         const b = envBand[i], m = Math.max(envMax[i], b);
         poly.push(api.coord([T[i] - SPIKE_HALF, b]));
         poly.push(api.coord([T[i], m]));
         poly.push(api.coord([T[i] + SPIKE_HALF, b]));
       }
       for (let i = T.length - 1; i >= 0; i--) poly.push(api.coord([T[i], envMin[i]]));
       return {type: 'polygon', shape: {points: poly}, style: {fill: 'rgba(250,128,114,0.3)'}};
     }},
    {type: 'line', name: 'dB(Z)', xAxisIndex: 1, yAxisIndex: 2, data: pts(bZ), symbol: 'none',
     color: '#dc143c', lineStyle: {color: '#dc143c', width: 1.5}, silent: true, z: 3},
    {type: 'line', name: 'dB(C)', xAxisIndex: 1, yAxisIndex: 2, data: pts(bC), symbol: 'none',
     color: '#ff8c00', lineStyle: {color: '#ff8c00', width: 1.5}, silent: true, z: 3},
    {type: 'line', name: 'dB(A)', xAxisIndex: 1, yAxisIndex: 2, data: pts(bA), symbol: 'none',
     color: '#ffd700', lineStyle: {color: '#ffd700', width: 1.5}, silent: true, z: 3}
  ]
};
const chart = echarts.init(document.getElementById('c'), null, {renderer: 'canvas', width: 2400, height: 1200});
chart.setOption(option);
</script></body></html>
